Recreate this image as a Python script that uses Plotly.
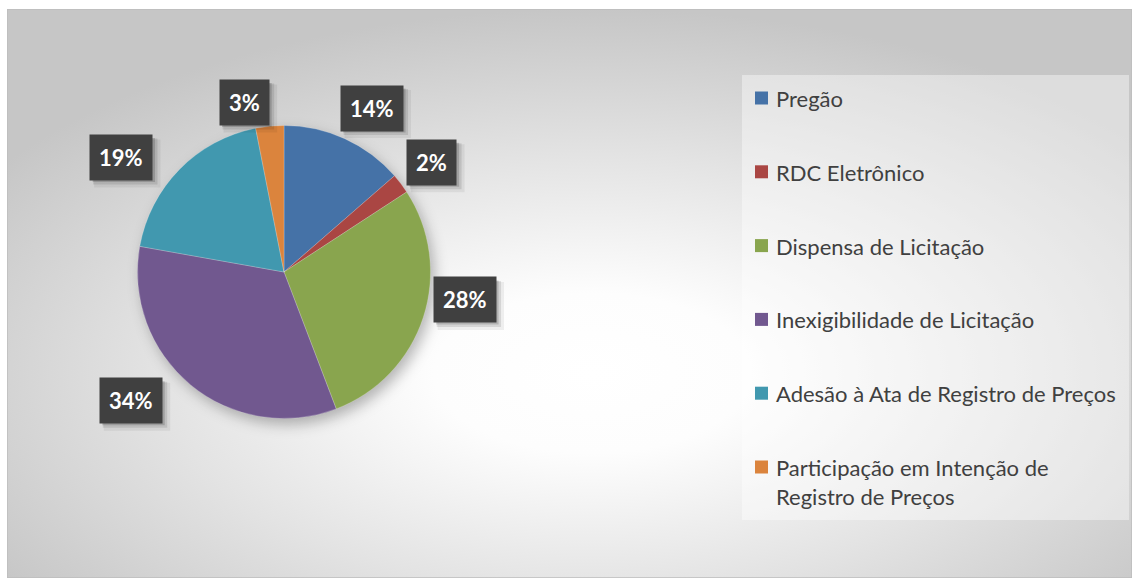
import base64
import math
import plotly.graph_objects as go

# ---------------- data ----------------
categories = [
    "Pregão",
    "RDC Eletrônico",
    "Dispensa de Licitação",
    "Inexigibilidade de Licitação",
    "Adesão à Ata de Registro de Preços",
    "Participação em Intenção de Registro de Preços",
]
legend_text = [
    "Pregão",
    "RDC Eletrônico",
    "Dispensa de Licitação",
    "Inexigibilidade de Licitação",
    "Adesão à Ata de Registro de Preços",
    "Participação em Intenção de<br>Registro de Preços",
]
shares = [13.6, 2.2, 28.4, 33.6, 19.1, 3.1]
colors = ["#4572a7", "#aa4643", "#89a54e", "#71588f", "#4198af", "#db843d"]

# ---------------- layout constants (styles) ----------------
W, H = 1132, 579
PANEL = (7, 9, 1132, 578)            # left, top, right, bottom (px)
PIE_CX, PIE_CY, PIE_R = 284, 272, 146.5
label_r = [186, 184, 183, 200, 199, 174]
label_nudge_deg = [3.7, 0.5, -9.2, 10.3, -9.3, -7.6]
LEG_BOX = (742, 75, 1129, 520)
LEG_SQ_X, LEG_TXT_X, LEG_Y0, LEG_DY, LEG_SQ = 755, 774, 98, 73.8, 13
FONT = "Lato"
LBL_SIZE = 22


def px(x):
    return x / W


def py(y):
    return 1 - y / H


# ---------------- background (radial gradient panel) ----------------
pw, ph = PANEL[2] - PANEL[0], PANEL[3] - PANEL[1]
scx, scy = PIE_CX - PANEL[0], PIE_CY - PANEL[1]
svg = f"""<svg xmlns="http://www.w3.org/2000/svg" width="{pw}" height="{ph}" viewBox="0 0 {pw} {ph}">
<defs>
<radialGradient id="g" cx="0.52" cy="0.64" r="0.64" fx="0.52" fy="0.64">
<stop offset="0" stop-color="#ffffff"/>
<stop offset="0.22" stop-color="#fdfdfd"/>
<stop offset="0.6" stop-color="#e3e3e3"/>
<stop offset="1" stop-color="#c6c6c6"/>
</radialGradient>
<filter id="b" x="-30%" y="-30%" width="160%" height="160%"><feGaussianBlur stdDeviation="7"/></filter>
</defs>
<rect x="0" y="0" width="{pw}" height="{ph}" fill="url(#g)" stroke="#bdbdbd" stroke-width="1.5"/>
<circle cx="{scx + 4}" cy="{scy + 6}" r="{PIE_R}" fill="#000" fill-opacity="0.28" filter="url(#b)"/>
</svg>"""
svg_uri = "data:image/svg+xml;base64," + base64.b64encode(svg.encode("utf-8")).decode("ascii")

# ---------------- figure ----------------
fig = go.Figure()
fig.add_trace(
    go.Pie(
        labels=categories,
        values=shares,
        sort=False,
        direction="clockwise",
        rotation=0,
        marker=dict(colors=colors, line=dict(color="rgba(255,255,255,0.35)", width=0.6)),
        textinfo="none",
        hoverinfo="label+percent",
        showlegend=False,
        domain=dict(x=[px(PIE_CX - PIE_R), px(PIE_CX + PIE_R)],
                    y=[py(PIE_CY + PIE_R), py(PIE_CY - PIE_R)]),
    )
)

annotations = []
shapes = []

# percentage labels (dark boxes) placed from each slice's mid angle
total = sum(shares)
cum = 0.0
for i, v in enumerate(shares):
    mid = (cum + v / 2) / total * 360 + label_nudge_deg[i]
    cum += v
    a = math.radians(mid)
    lx = PIE_CX + label_r[i] * math.sin(a)
    ly = PIE_CY - label_r[i] * math.cos(a)
    pct = str(round(v / total * 100))
    bw = LBL_SIZE * (0.58 * len(pct) + 0.86) + 18
    bh = 44
    # soft shadow (shapes, below the label box)
    for off, alpha, grow in ((6, 0.06, 2), (4, 0.10, 1), (2.5, 0.16, 0)):
        shapes.append(dict(
            type="rect", xref="paper", yref="paper",
            x0=px(lx - bw / 2 + off - grow), x1=px(lx + bw / 2 + off + grow),
            y0=py(ly + bh / 2 + off + grow), y1=py(ly - bh / 2 + off - grow),
            fillcolor=f"rgba(0,0,0,{alpha})", line=dict(width=0),
        ))
    annotations.append(dict(
        x=px(lx), y=py(ly), xref="paper", yref="paper",
        text=f"<b>{pct}%</b>", showarrow=False, xanchor="center", yanchor="middle",
        font=dict(family=FONT, size=LBL_SIZE, color="#ffffff"),
        bgcolor="#404040", borderpad=9,
    ))

# legend box
shapes.append(dict(
    type="rect", xref="paper", yref="paper",
    x0=px(LEG_BOX[0]), x1=px(LEG_BOX[2]), y0=py(LEG_BOX[3]), y1=py(LEG_BOX[1]),
    fillcolor="rgba(255,255,255,0.4)", line=dict(width=0), layer="below",
))
for i, (lab, col) in enumerate(zip(legend_text, colors)):
    yc = LEG_Y0 + i * LEG_DY
    shapes.append(dict(
        type="rect", xref="paper", yref="paper",
        x0=px(LEG_SQ_X), x1=px(LEG_SQ_X + LEG_SQ),
        y0=py(yc + LEG_SQ / 2), y1=py(yc - LEG_SQ / 2),
        fillcolor=col, line=dict(width=0),
    ))
    annotations.append(dict(
        x=px(LEG_TXT_X), y=py(yc - 15), xref="paper", yref="paper",
        text=lab, showarrow=False, xanchor="left", yanchor="top", align="left",
        font=dict(family=FONT, size=22, color="#404040"),
    ))

fig.update_layout(
    width=W, height=H,
    margin=dict(l=0, r=0, t=0, b=0),
    paper_bgcolor="#ffffff",
    plot_bgcolor="rgba(0,0,0,0)",
    showlegend=False,
    xaxis=dict(visible=False), yaxis=dict(visible=False),
    images=[dict(
        source=svg_uri, xref="paper", yref="paper",
        x=px(PANEL[0]), y=py(PANEL[1]), sizex=pw / W, sizey=ph / H,
        xanchor="left", yanchor="top", sizing="stretch", layer="below",
    )],
    shapes=shapes,
    annotations=annotations,
)

fig.write_html("out.html")
